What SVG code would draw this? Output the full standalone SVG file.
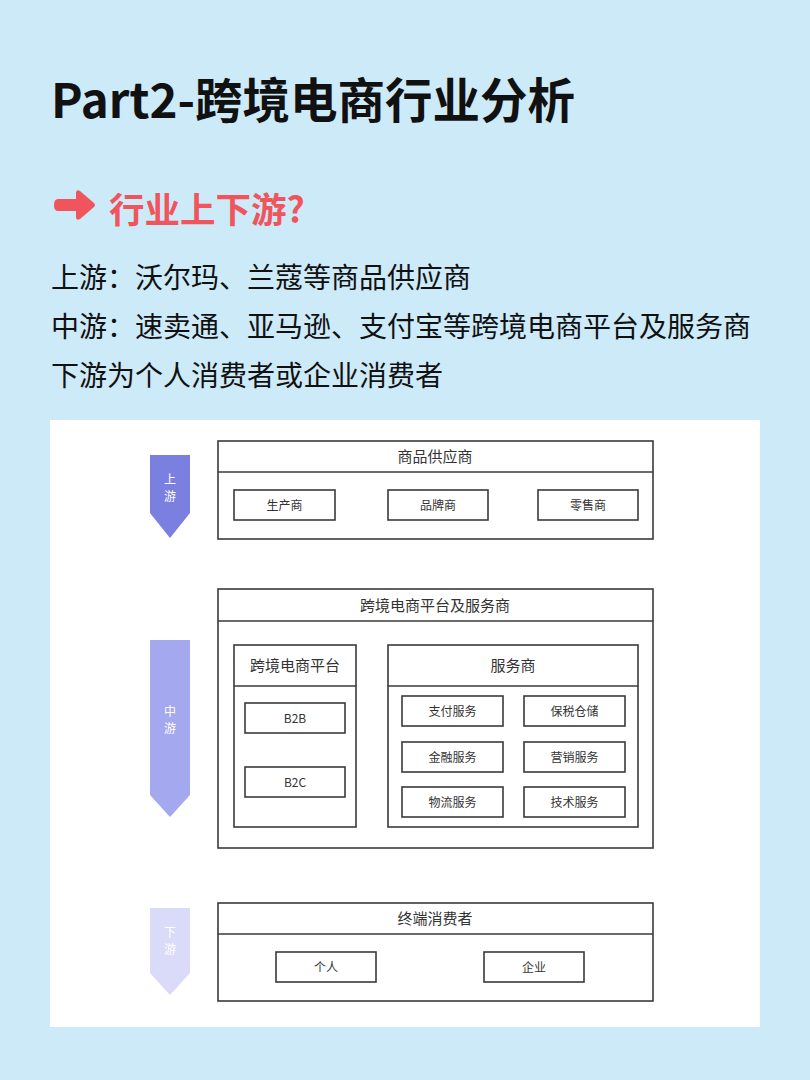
<svg xmlns="http://www.w3.org/2000/svg" width="810" height="1080" viewBox="0 0 810 1080">
<style>
.t{font-family:"Noto Sans CJK SC","Noto Sans",sans-serif;}
.box{fill:#fff;stroke:#3a3a3a;stroke-width:1.6;}
.ln{stroke:#3a3a3a;stroke-width:1.6;}
.hd{font-family:"Noto Sans CJK SC","Noto Sans",sans-serif;font-size:15px;fill:#333;text-anchor:middle;}
.sm{font-family:"Noto Sans CJK SC","Noto Sans",sans-serif;font-size:12px;fill:#333;text-anchor:middle;}
.ar{font-family:"Noto Sans CJK SC",sans-serif;font-size:12px;fill:#fff;text-anchor:middle;}
.body{font-family:"Noto Sans CJK SC","Noto Sans",sans-serif;font-size:28px;fill:#111;}
</style>
<rect width="810" height="1080" fill="#cdeaf9"/>
<text class="t" x="51" y="118" font-size="47.5" font-weight="700" fill="#111">Part2-跨境电商行业分析</text>
<g id="subtitle">
<path d="M58 199 H76 V192 Q77 189 80 191 L94 203 Q96 205 94 207 L80 219 Q77 221 76 218 V211 H58 Q54 211 54 205 Q54 199 58 199 Z" fill="#f0555d"/>
<text class="t" x="109" y="223" font-size="35.5" font-weight="700" fill="#f0555d">行业上下游?</text>
</g>
<text class="body" x="51" y="288">上游：沃尔玛、兰蔻等商品供应商</text>
<text class="body" x="51" y="337">中游：速卖通、亚马逊、支付宝等跨境电商平台及服务商</text>
<text class="body" x="51" y="386">下游为个人消费者或企业消费者</text>
<rect x="50" y="420" width="710" height="607" fill="#fff"/>
<g id="arrow-up">
<path d="M150 455 H190 V513 L170 538 L150 513 Z" fill="#7a7fe0"/>
<text class="ar" x="170" y="484">上</text><text class="ar" x="170" y="501">游</text>
</g>
<g id="arrow-mid">
<path d="M150 640 H190 V795 L170 817 L150 795 Z" fill="#a4a8ee"/>
<text class="ar" x="170" y="716">中</text><text class="ar" x="170" y="733">游</text>
</g>
<g id="arrow-down">
<path d="M150 908 H190 V973 L170 995 L150 973 Z" fill="#dadbf8"/>
<text class="ar" x="170" y="937">下</text><text class="ar" x="170" y="954">游</text>
</g>
<g id="supplier">
<rect class="box" x="218" y="441" width="435" height="98"/>
<line class="ln" x1="218" y1="472" x2="653" y2="472"/>
<text class="hd" x="435" y="462">商品供应商</text>
<rect class="box" x="234" y="490" width="101" height="30"/><text class="sm" x="284.5" y="510">生产商</text>
<rect class="box" x="388" y="490" width="100" height="30"/><text class="sm" x="438" y="510">品牌商</text>
<rect class="box" x="538" y="490" width="100" height="30"/><text class="sm" x="588" y="510">零售商</text>
</g>
<g id="platform-service">
<rect class="box" x="218" y="589" width="435" height="259"/>
<line class="ln" x1="218" y1="621" x2="653" y2="621"/>
<text class="hd" x="435" y="611">跨境电商平台及服务商</text>
</g>
<g id="platform">
<rect class="box" x="234" y="645" width="122" height="182"/>
<line class="ln" x1="234" y1="686" x2="356" y2="686"/>
<text class="hd" x="295" y="671">跨境电商平台</text>
<rect class="box" x="245" y="703" width="100" height="30"/><text class="sm" x="295" y="723">B2B</text>
<rect class="box" x="245" y="767" width="100" height="30"/><text class="sm" x="295" y="787">B2C</text>
</g>
<g id="services">
<rect class="box" x="388" y="645" width="250" height="182"/>
<line class="ln" x1="388" y1="686" x2="638" y2="686"/>
<text class="hd" x="513" y="671">服务商</text>
<rect class="box" x="402" y="696" width="101" height="30"/><text class="sm" x="452.5" y="716">支付服务</text>
<rect class="box" x="524" y="696" width="101" height="30"/><text class="sm" x="574.5" y="716">保税仓储</text>
<rect class="box" x="402" y="742" width="101" height="30"/><text class="sm" x="452.5" y="762">金融服务</text>
<rect class="box" x="524" y="742" width="101" height="30"/><text class="sm" x="574.5" y="762">营销服务</text>
<rect class="box" x="402" y="787" width="101" height="30"/><text class="sm" x="452.5" y="807">物流服务</text>
<rect class="box" x="524" y="787" width="101" height="30"/><text class="sm" x="574.5" y="807">技术服务</text>
</g>
<g id="consumer">
<rect class="box" x="218" y="903" width="435" height="98"/>
<line class="ln" x1="218" y1="934" x2="653" y2="934"/>
<text class="hd" x="435" y="924">终端消费者</text>
<rect class="box" x="276" y="952" width="100" height="30"/><text class="sm" x="326" y="972">个人</text>
<rect class="box" x="484" y="952" width="100" height="30"/><text class="sm" x="534" y="972">企业</text>
</g>
<g id="connectors"></g>
</svg>
